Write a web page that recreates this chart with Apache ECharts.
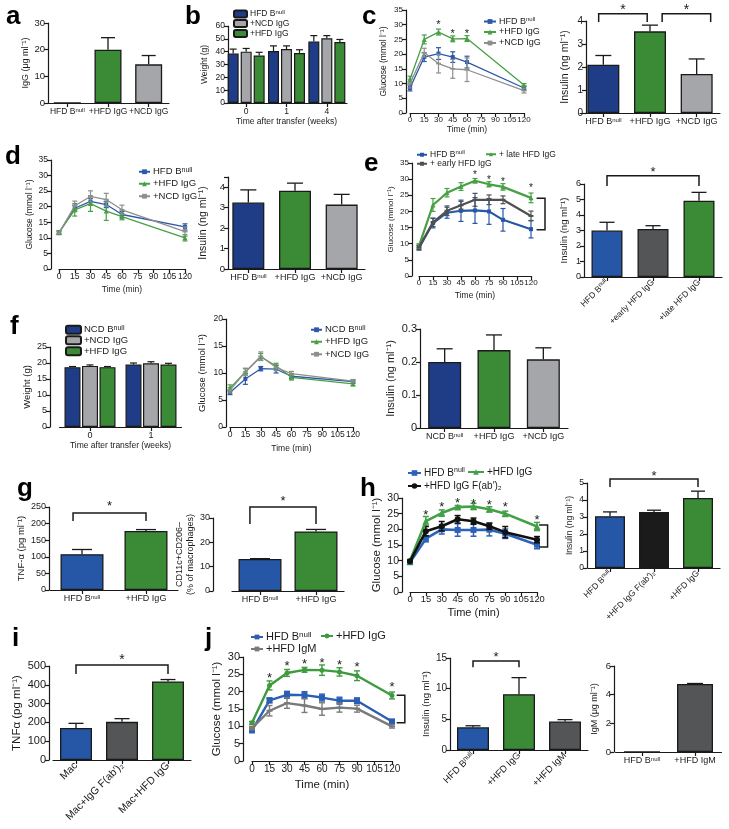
<!DOCTYPE html>
<html><head><meta charset="utf-8">
<script src="https://cdn.jsdelivr.net/npm/echarts@6/dist/echarts.min.js"></script>
<style>html,body{margin:0;padding:0;background:#fff}#c{width:729px;height:829px}</style>
</head><body><div id="c"></div>
<script>
// ================= DATA =================
const timesShort = [0, 15, 30, 45, 60, 120];
const timesLong = [0, 15, 30, 45, 60, 75, 90, 120];

// a
const aCats = ['HFD B^null', '+HFD IgG', '+NCD IgG'];
const aIgG = [0, 20, 14.5];
const aIgGErr = [0, 4.5, 3.3];

// b
const bCats = ['0', '1', '4'];
const bNames = ['HFD B^null', '+NCD IgG', '+HFD IgG'];
const bBnull = [38.5, 40.5, 48];
const bNcd = [40, 42, 50.5];
const bHfd = [37, 39, 47.5];
const bBnullErr = [3.5, 4, 4.5];
const bNcdErr = [2.5, 2.5, 2];
const bHfdErr = [2.5, 2.5, 2];

// c
const cNames = ['HFD B^null', '+HFD IgG', '+NCD IgG'];
const cGluBnull = [8.5, 19, 20.2, 19, 17.3, 8.5];
const cGluBnullErr = [1, 1.5, 2, 1.8, 2, 0.7];
const cGluHfd = [11.5, 25, 27.5, 25.2, 25.3, 9.5];
const cGluHfdErr = [1, 1.5, 1, 1, 1, 0.5];
const cGluNcd = [10, 20.5, 16.8, 15, 14.7, 7.6];
const cGluNcdErr = [1.5, 1.5, 3.2, 3.2, 4, 0.8];
const cStars = [[30, 30.6], [45, 27.6], [60, 27.6]];
const cInsCats = ['HFD B^null', '+HFD IgG', '+NCD IgG'];
const cIns = [2.1, 3.55, 1.7];
const cInsErr = [0.4, 0.27, 0.65];
const cInsBrackets = [[-0.1, 0.94, 4.32, 3.96, 4.6], [1.26, 2.3, 4.32, 3.96, 4.6]];

// d
const dNames = ['HFD B^null', '+HFD IgG', '+NCD IgG'];
const dGluBnull = [11.7, 19.5, 21.7, 20.7, 17.5, 13.5];
const dGluBnullErr = [0.5, 1, 1, 1, 1, 1];
const dGluHfd = [11.8, 19, 21, 18.6, 16.8, 10];
const dGluHfdErr = [0.5, 2, 2.5, 3, 1, 1];
const dGluNcd = [11.5, 20.3, 23.3, 22.3, 19, 12];
const dGluNcdErr = [0.5, 1.5, 1.8, 2, 1.5, 1.5];
const dInsCats = ['HFD B^null', '+HFD IgG', '+NCD IgG'];
const dIns = [3.25, 3.83, 3.15];
const dInsErr = [0.62, 0.37, 0.5];

// e
const eNames = ['HFD B^null', '+ late HFD IgG', '+ early HFD IgG'];
const eGluBnull = [8.7, 16.4, 19.6, 20.2, 20.3, 20, 17.4, 14.5];
const eGluBnullErr = [0.7, 1.5, 1.7, 3.3, 4, 4, 3.5, 2.7];
const eGluLate = [9.3, 22, 25.8, 27.7, 29.5, 28.4, 27.6, 24.2];
const eGluLateErr = [0.7, 2, 1.3, 1.2, 0.7, 0.8, 1, 1.5];
const eGluEarly = [8.9, 16.6, 20.2, 21.9, 23.6, 23.6, 23.6, 18.6];
const eGluEarlyErr = [0.7, 1.3, 1.5, 1.2, 2, 1.5, 1.2, 1.5];
const eStars = [[60, 31.9], [75, 30.4], [90, 29.8], [120, 27.8]];
const eSide = [[126, 135, 24.1, 14.3]];
const eInsCats = ['HFD B^null', '+early HFD IgG', '+late HFD IgG'];
const eIns = [3.0, 3.1, 4.92];
const eInsErr = [0.53, 0.21, 0.54];
const eInsBrackets = [[0, 2, 6.53, 5.87, 6.9]];

// f
const fCats = ['0', '1'];
const fNames = ['NCD B^null', '+NCD IgG', '+HFD IgG'];
const fWBnull = [18.7, 19.5];
const fWNcd = [19.1, 19.9];
const fWHfd = [18.7, 19.5];
const fWBnullErr = [0.2, 0.5];
const fWNcdErr = [0.3, 0.5];
const fWHfdErr = [0.2, 0.4];
const fGNames = ['NCD B^null', '+HFD IgG', '+NCD IgG'];
const fGluBnull = [6.4, 8.9, 10.8, 10.7, 9.4, 8.4];
const fGluBnullErr = [0.4, 1, 0.4, 0.7, 0.4, 0.3];
const fGluHfd = [7.2, 10.2, 13, 11.3, 9.2, 8.0];
const fGluHfdErr = [0.6, 0.6, 0.6, 0.5, 0.5, 0.4];
const fGluNcd = [6.8, 10.2, 13.1, 11.0, 9.9, 8.5];
const fGluNcdErr = [0.5, 0.7, 0.8, 0.5, 0.4, 0.3];
const fInsCats = ['NCD B^null', '+HFD IgG', '+NCD IgG'];
const fIns = [0.2, 0.236, 0.208];
const fInsErr = [0.04, 0.046, 0.035];

// g
const gCats = ['HFD B^null', '+HFD IgG'];
const gTnf = [108, 178];
const gTnfErr = [14, 4];
const gTnfBrackets = [[-0.14, 1, 232, 208, 259]];
const gCd = [13.2, 24.5];
const gCdErr = [0.1, 0.8];
const gCdBrackets = [[-0.18, 1, 34.5, 27.5, 38]];

// h
const hNames = ['HFD B^null', '+HFD IgG', '+HFD IgG F(ab\u2032)\u2082'];
const hGluBnull = [9.5, 17, 20, 19.8, 19.8, 19.9, 18.6, 15.1];
const hGluBnullErr = [0.4, 1, 1.5, 2, 2, 2, 1.5, 1.3];
const hGluHfd = [10, 22.6, 25.2, 27.1, 27.3, 26.4, 25, 20.9];
const hGluHfdErr = [0.4, 1.5, 1, 0.5, 1, 0.8, 0.8, 1.3];
const hGluFab = [9.8, 19.4, 21, 23.2, 22.6, 21, 19.1, 16.7];
const hGluFabErr = [0.4, 1.5, 1.5, 1.2, 1, 1, 1.8, 1];
const hStars = [[15, 25.2], [30, 28], [45, 29.3], [60, 29], [75, 28.4], [90, 28], [120, 23.7]];
const hSide = [[122, 130, 21.4, 14.4]];
const hInsCats = ['HFD B^null', '+HFD IgG F(ab\u2032)\u2082', '+HFD IgG'];
const hIns = [3.05, 3.3, 4.12];
const hInsErr = [0.25, 0.1, 0.4];
const hInsBrackets = [[0, 2, 5.24, 4.76, 5.55]];

// i
const iCats = ['Mac', 'Mac+IgG F(ab\u2032)\u2082', 'Mac+HFD IgG'];
const iTnf = [170, 203, 418];
const iTnfErr = [25, 17, 10];
const iBrackets = [[0, 2, 505, 457, 548]];

// j
const jNames = ['HFD B^null', '+HFD IgG', '+HFD IgM'];
const jGluBnull = [8.8, 17.5, 19.1, 19, 18.3, 17.4, 17.4, 11.4];
const jGluBnullErr = [0.5, 0.7, 1, 1, 1, 1, 0.8, 0.6];
const jGluHfd = [11, 21.8, 25.4, 26.3, 26.2, 25.7, 24.6, 18.9];
const jGluHfdErr = [0.4, 1.3, 1, 0.7, 1.5, 1.2, 1.4, 1];
const jGluIgm = [9.5, 14.5, 16.7, 16, 15, 15.4, 15.1, 10];
const jGluIgmErr = [0.5, 1.5, 1.5, 2, 1.8, 1.3, 1, 0.5];
const jStars = [[15, 24.6], [30, 28], [45, 28.7], [60, 28.9], [75, 28.5], [90, 27.8], [120, 22]];
const jSide = [[124, 131, 19.0, 11.0]];
const jInsCats = ['HFD B^null', '+HFD IgG', '+HFD IgM'];
const jIns = [3.7, 9.1, 4.65];
const jInsErr = [0.25, 2.7, 0.3];
const jInsBrackets = [[0, 1, 14.5, 13.5, 15.6]];
const jIgmCats = ['HFD B^null', '+HFD IgM'];
const jIgm = [0, 4.75];
const jIgmErr = [0, 0.03];

// ================= STYLE / HELPERS =================
const FONT = '"Liberation Sans",Arial,Helvetica,sans-serif';
const INK = '#1a1a1a';
const COL = {
  navy: '#1f3d86', blue: '#2657a6', green: '#3a8a36', lgray: '#a4a6a9', dgray: '#535557', black: '#1b1b1b',
  lBlue: '#2b58a8', lGreen: '#47a044', lGray: '#8e8e8e', lDgray: '#505050', lBlack: '#111111'
};

function sup(s) { const i = s.indexOf('^'); return i < 0 ? s : s.slice(0, i) + '{s|' + s.slice(i + 1) + '}'; }
function richFor(fs) { return { s: { fontSize: Math.round(fs * 0.72), fontFamily: FONT, color: INK, padding: [0, 0, Math.round(fs * 0.45), 0] } }; }

const opt = { animation: false, backgroundColor: '#fff', textStyle: { fontFamily: FONT },
  grid: [], xAxis: [], yAxis: [], series: [], legend: [], graphic: [] };

function axisBase(fs) {
  return {
    axisLine: { show: true, onZero: false, lineStyle: { color: INK, width: 1.2 } },
    axisTick: { show: true, length: 4, lineStyle: { color: INK, width: 1.2 } },
    axisLabel: { color: INK, fontSize: fs, fontFamily: FONT, margin: 3, showMinLabel: true, showMaxLabel: true, hideOverlap: false },
    splitLine: { show: false }
  };
}
function makeY(p) {
  const b = axisBase(p.fs);
  b.axisLabel.formatter = v => { const r = v / p.yint; return Math.abs(r - Math.round(r)) < 1e-6 ? String(Math.round(v * 1000) / 1000) : ''; };
  return Object.assign(b, { type: 'value', min: 0, max: p.ymax, interval: p.yint, offset: p.yoff || 0,
    name: p.yname, nameLocation: 'middle', nameGap: p.ngap,
    nameTextStyle: { color: INK, fontSize: p.nfs || p.fs, fontFamily: FONT, lineHeight: (p.nfs || p.fs) + 2 } });
}
function addAxes(g, xa, ya) {
  opt.grid.push({ left: g.left, top: g.top, width: g.width, height: g.height });
  const gi = opt.grid.length - 1; xa.gridIndex = gi; ya.gridIndex = gi;
  opt.xAxis.push(xa); opt.yAxis.push(ya); return gi;
}
function errSeries(gi, data, mode, cap, color, off, lw) {
  return { type: 'custom', xAxisIndex: gi, yAxisIndex: gi, silent: true, z: 4, clip: false, data: data,
    renderItem: (params, api) => {
      const x = api.value(0), v = api.value(1), e = api.value(2);
      if (!e) return null;
      const top = api.coord([x, v + e]); const bot = api.coord([x, mode === 'up' ? v : v - e]);
      const cx = top[0] + (off || 0);
      const st = { stroke: color, lineWidth: lw || 1.2 };
      const ch = [{ type: 'line', shape: { x1: cx, y1: bot[1], x2: cx, y2: top[1] }, style: st },
                  { type: 'line', shape: { x1: cx - cap / 2, y1: top[1], x2: cx + cap / 2, y2: top[1] }, style: st }];
      if (mode !== 'up') ch.push({ type: 'line', shape: { x1: cx - cap / 2, y1: bot[1], x2: cx + cap / 2, y2: bot[1] }, style: st });
      return { type: 'group', children: ch };
    } };
}
function starText(x, y, fs) {
  return { type: 'text', x: x, y: y + fs * 0.22, style: { text: '*', fontSize: fs, fontFamily: 'Liberation Sans, Arial', fill: INK, align: 'center', verticalAlign: 'middle', textAlign: 'center', textVerticalAlign: 'middle' } };
}
function bracketSeries(gi, br, fs, isCat) {
  return { type: 'custom', xAxisIndex: gi, yAxisIndex: gi, silent: true, z: 5, clip: false,
    data: br.map(b => [Math.round(b[0]), b[2]]),
    renderItem: (params, api) => {
      const b = br[params.dataIndex];
      const px = x => { if (!isCat) return api.coord([x, 0])[0]; const r = Math.round(x); return api.coord([r, 0])[0] + (x - r) * api.size([1, 0])[0]; };
      const py = y => api.coord([0, y])[1];
      const x1 = px(b[0]), x2 = px(b[1]), yt = py(b[2]), yd = py(b[3]);
      return { type: 'group', children: [
        { type: 'polyline', shape: { points: [[x1, yd], [x1, yt], [x2, yt], [x2, yd]] }, style: { stroke: INK, lineWidth: 1.5, fill: null } },
        starText((x1 + x2) / 2, py(b[4]), fs)
      ] };
    } };
}
function starSeries(gi, stars, fs) {
  return { type: 'custom', xAxisIndex: gi, yAxisIndex: gi, silent: true, z: 5, clip: false, data: stars,
    renderItem: (params, api) => { const c = api.coord([api.value(0), api.value(1)]); return starText(c[0], c[1], fs); } };
}
function sideSeries(gi, side, lw) {
  return { type: 'custom', xAxisIndex: gi, yAxisIndex: gi, silent: true, z: 5, clip: false, data: side.map(s => [s[0], s[2]]),
    renderItem: (params, api) => {
      const s = side[params.dataIndex];
      const xa = api.coord([s[0], 0])[0], xb = api.coord([s[1], 0])[0], y1 = api.coord([0, s[2]])[1], y2 = api.coord([0, s[3]])[1];
      return { type: 'polyline', shape: { points: [[xa, y1], [xb, y1], [xb, y2], [xa, y2]] }, style: { stroke: INK, lineWidth: lw || 1.5, fill: null } };
    } };
}
function catAxis(p) {
  const b = axisBase(p.cfs || p.fs);
  b.axisTick.alignWithLabel = true;
  b.axisLabel.interval = 0; b.axisLabel.rotate = p.rot || 0; b.axisLabel.margin = p.cmargin || 4;
  b.axisLabel.formatter = v => sup(v); b.axisLabel.rich = richFor(p.cfs || p.fs);
  const a = Object.assign(b, { type: 'category', data: p.cats });
  if (p.xname) Object.assign(a, { name: p.xname, nameLocation: 'middle', nameGap: p.xgap,
    nameTextStyle: { color: INK, fontSize: p.xnfs || p.fs, fontFamily: FONT } });
  return a;
}
function barPanel(p) {
  const gi = addAxes(p.g, catAxis(p), makeY(p));
  opt.series.push({ type: 'bar', xAxisIndex: gi, yAxisIndex: gi, barWidth: p.bw, silent: true, z: 2,
    data: p.vals.map((v, i) => ({ value: v, itemStyle: { color: p.colors[i] } })),
    itemStyle: { borderColor: INK, borderWidth: 1.3 } });
  opt.series.push(errSeries(gi, p.vals.map((v, i) => [i, v, p.errs[i]]), 'up', p.cap, INK, 0, 1.3));
  if (p.brackets) opt.series.push(bracketSeries(gi, p.brackets, p.sfs || 14, true));
}
function groupPanel(p) {
  const gi = addAxes(p.g, catAxis(p), makeY(p));
  const n = p.series.length;
  p.series.forEach((s, k) => {
    opt.series.push({ type: 'bar', name: p.id + '|' + s.name, xAxisIndex: gi, yAxisIndex: gi, barWidth: p.bw,
      barGap: (p.gap / p.bw * 100) + '%', data: s.vals, silent: true, z: 2,
      itemStyle: { color: s.color, borderColor: INK, borderWidth: 1.2 } });
    const off = (k - (n - 1) / 2) * (p.bw + p.gap);
    opt.series.push(errSeries(gi, s.vals.map((v, i) => [i, v, s.errs[i]]), 'up', p.cap, INK, off, 1.2));
  });
}
function linePanel(p) {
  const xa = Object.assign(axisBase(p.xfs || p.fs), { type: 'value', min: 0, max: 120, interval: 15,
    name: 'Time (min)', nameLocation: 'middle', nameGap: p.xgap,
    nameTextStyle: { color: INK, fontSize: p.xnfs || p.fs, fontFamily: FONT } });
  const gi = addAxes(p.g, xa, makeY(p));
  p.series.forEach((s, k) => {
    opt.series.push({ type: 'line', name: p.id + '|' + s.name, xAxisIndex: gi, yAxisIndex: gi, silent: true, z: 3 + k,
      data: p.x.map((x, i) => [x, s.y[i]]), symbol: s.symbol, symbolSize: s.size, showSymbol: true,
      color: s.color, itemStyle: { color: s.color }, lineStyle: { color: s.color, width: p.lw } });
    opt.series.push(errSeries(gi, p.x.map((x, i) => [x, s.y[i], s.e[i]]), 'both', p.cap, s.color, 0, p.elw || 1.2));
  });
  if (p.stars) opt.series.push(starSeries(gi, p.stars, p.sfs || 11));
  if (p.side) opt.series.push(sideSeries(gi, p.side, 1.5));
}
function leg(name, left, cy, fs, iw, ih) {
  const h = Math.max(ih, fs + 2);
  opt.legend.push({ data: [name], left: left, top: cy - h / 2, orient: 'horizontal', selectedMode: false, padding: 0,
    itemWidth: iw, itemHeight: ih, itemGap: 0,
    textStyle: { fontSize: fs, fontFamily: FONT, color: INK, rich: richFor(fs), padding: [0, 0, 0, -2] },
    formatter: n => sup(n.split('|')[1]) });
}

// ================= PANELS =================
// a
barPanel({ g: { left: 47, top: 23, width: 122, height: 80 }, cats: aCats, vals: aIgG, errs: aIgGErr,
  colors: [COL.navy, COL.green, COL.lgray], bw: 27, cap: 14, ymax: 30, yint: 10, yoff: -1, fs: 9.5, cfs: 8.5,
  yname: 'IgG (\u03bcg ml\u207b\u00b9)', ngap: 16, nfs: 9 });

// b
groupPanel({ id: 'b', g: { left: 226, top: 26, width: 121, height: 77 }, cats: bCats, bw: 11, gap: 2, cap: 7,
  ymax: 60, yint: 10, yoff: -2, fs: 8.5, cfs: 8.5, yname: 'Weight (g)', ngap: 18, nfs: 8.5,
  xname: 'Time after transfer (weeks)', xgap: 12, xnfs: 8.5,
  series: [{ name: bNames[0], vals: bBnull, errs: bBnullErr, color: COL.navy },
           { name: bNames[1], vals: bNcd, errs: bNcdErr, color: COL.lgray },
           { name: bNames[2], vals: bHfd, errs: bHfdErr, color: COL.green }] });
bNames.forEach((n, k) => leg('b|' + n, 233, 14.3 + k * 10, 8.5, 13, 7));

// c glucose
linePanel({ id: 'c', g: { left: 410, top: 10, width: 114, height: 103 }, x: timesShort, ymax: 35, yint: 5, yoff: 4,
  fs: 8, yname: 'Glucose (mmol l\u207b\u00b9)', ngap: 17, nfs: 8.5, xgap: 10, xnfs: 8.5, lw: 1.3, cap: 5, sfs: 11,
  stars: cStars,
  series: [{ name: cNames[0], y: cGluBnull, e: cGluBnullErr, color: COL.lBlue, symbol: 'rect', size: 4 },
           { name: cNames[1], y: cGluHfd, e: cGluHfdErr, color: COL.lGreen, symbol: 'triangle', size: 5 },
           { name: cNames[2], y: cGluNcd, e: cGluNcdErr, color: COL.lGray, symbol: 'rect', size: [5, 1.6] }] });
cNames.forEach((n, k) => leg('c|' + n, 483, 22 + k * 11, 9, 12, 6));
// c insulin
barPanel({ g: { left: 580, top: 21, width: 140, height: 92 }, cats: cInsCats, vals: cIns, errs: cInsErr,
  colors: [COL.navy, COL.green, COL.lgray], bw: 32, cap: 16, ymax: 4, yint: 1, yoff: -6, fs: 10, cfs: 9,
  yname: 'Insulin (ng ml\u207b\u00b9)', ngap: 15, nfs: 10.5, brackets: cInsBrackets, sfs: 14 });

// d glucose
linePanel({ id: 'd', g: { left: 59, top: 160, width: 126, height: 109 }, x: timesShort, ymax: 35, yint: 5, yoff: 8,
  fs: 8.5, yname: 'Glucose (mmol l\u207b\u00b9)', ngap: 16, nfs: 8.5, xgap: 16, xnfs: 8.5, lw: 1.3, cap: 5,
  series: [{ name: dNames[0], y: dGluBnull, e: dGluBnullErr, color: COL.lBlue, symbol: 'rect', size: 4 },
           { name: dNames[1], y: dGluHfd, e: dGluHfdErr, color: COL.lGreen, symbol: 'triangle', size: 5 },
           { name: dNames[2], y: dGluNcd, e: dGluNcdErr, color: COL.lGray, symbol: 'rect', size: [5, 1.6] }] });
dNames.forEach((n, k) => leg('d|' + n, 138, 172 + k * 12.5, 9.5, 11, 6));
// d insulin
barPanel({ g: { left: 225, top: 177, width: 140, height: 92 }, cats: dInsCats, vals: dIns, errs: dInsErr,
  colors: [COL.navy, COL.green, COL.lgray], bw: 32, cap: 16, ymax: 4.5, yint: 1, yoff: -3, fs: 9.5, cfs: 9,
  yname: 'Insulin (ng ml\u207b\u00b9)', ngap: 19, nfs: 10.5 });

// e glucose
linePanel({ id: 'e', g: { left: 419, top: 163, width: 112, height: 113 }, x: timesLong, ymax: 35, yint: 5, yoff: 7,
  fs: 8, yname: 'Glucose (mmol l\u207b\u00b9)', ngap: 15, nfs: 8, xgap: 15, xnfs: 8.5, lw: 2.2, cap: 5, sfs: 10,
  stars: eStars, side: eSide,
  series: [{ name: eNames[0], y: eGluBnull, e: eGluBnullErr, color: COL.blue, symbol: 'rect', size: 4 },
           { name: eNames[1], y: eGluLate, e: eGluLateErr, color: COL.lGreen, symbol: 'triangle', size: 5 },
           { name: eNames[2], y: eGluEarly, e: eGluEarlyErr, color: COL.lDgray, symbol: 'rect', size: [5, 2] }] });
leg('e|' + eNames[0], 416, 155, 8.5, 10, 5);
leg('e|' + eNames[1], 485, 155, 8.5, 10, 5);
leg('e|' + eNames[2], 416, 164.5, 8.5, 10, 5);
// e insulin
barPanel({ g: { left: 584, top: 184, width: 138, height: 93 }, cats: eInsCats, vals: eIns, errs: eInsErr,
  colors: [COL.blue, COL.dgray, COL.green], bw: 31, cap: 15, ymax: 6, yint: 1, yoff: 0, fs: 9, cfs: 8.5, rot: 45,
  yname: 'Insulin (ng ml\u207b\u00b9)', ngap: 14, nfs: 9.5, brackets: eInsBrackets, sfs: 13 });

// f weight
groupPanel({ id: 'f', g: { left: 59.5, top: 347, width: 122, height: 80 }, cats: fCats, bw: 16, gap: 1.5, cap: 7,
  ymax: 25, yint: 5, yoff: 9.5, fs: 9, cfs: 9, yname: 'Weight (g)', ngap: 12, nfs: 9.5,
  xname: 'Time after transfer (weeks)', xgap: 13, xnfs: 8.5,
  series: [{ name: fNames[0], vals: fWBnull, errs: fWBnullErr, color: COL.navy },
           { name: fNames[1], vals: fWNcd, errs: fWNcdErr, color: COL.lgray },
           { name: fNames[2], vals: fWHfd, errs: fWHfdErr, color: COL.green }] });
fNames.forEach((n, k) => leg('f|' + n, 65, 330 + k * 11, 9.5, 15, 8));
// f glucose
linePanel({ id: 'f2', g: { left: 230, top: 319, width: 123, height: 108 }, x: timesShort, ymax: 20, yint: 5, yoff: 4,
  fs: 8.5, yname: 'Glucose (mmol l\u207b\u00b9)', ngap: 18, nfs: 9.5, xgap: 17, xnfs: 8.5, lw: 1.3, cap: 5,
  series: [{ name: fGNames[0], y: fGluBnull, e: fGluBnullErr, color: COL.lBlue, symbol: 'rect', size: 4 },
           { name: fGNames[1], y: fGluHfd, e: fGluHfdErr, color: COL.lGreen, symbol: 'triangle', size: 5 },
           { name: fGNames[2], y: fGluNcd, e: fGluNcdErr, color: COL.lGray, symbol: 'rect', size: [5, 1.6] }] });
fGNames.forEach((n, k) => leg('f2|' + n, 310, 330 + k * 12.5, 9.5, 11, 6));
// f insulin
barPanel({ g: { left: 420, top: 329, width: 148, height: 99 }, cats: fInsCats, vals: fIns, errs: fInsErr,
  colors: [COL.navy, COL.green, COL.lgray], bw: 33, cap: 16, ymax: 0.3, yint: 0.1, yoff: 0, fs: 11, cfs: 9,
  yname: 'Insulin (ng ml\u207b\u00b9)', ngap: 23, nfs: 11 });

// g TNF
barPanel({ g: { left: 50, top: 507, width: 128, height: 83 }, cats: gCats, vals: gTnf, errs: gTnfErr,
  colors: [COL.blue, COL.green], bw: 43, cap: 20, ymax: 250, yint: 50, yoff: 1, fs: 9, cfs: 9,
  yname: 'TNF-\u03b1 (pg ml\u207b\u00b9)', ngap: 19, nfs: 9.5, brackets: gTnfBrackets, sfs: 13 });
// g CD11c
barPanel({ g: { left: 232, top: 518, width: 112, height: 73 }, cats: gCats, vals: gCd, errs: gCdErr,
  colors: [COL.blue, COL.green], bw: 43, cap: 20, ymax: 30, yint: 10, yoff: 19, fs: 9, cfs: 9,
  yname: 'CD11c+CD206\u2013\n(% of macrophages)', ngap: 7, nfs: 9, brackets: gCdBrackets, sfs: 13 });

// h glucose
linePanel({ id: 'h', g: { left: 410, top: 498, width: 127, height: 94 }, x: timesLong, ymax: 30, yint: 5, yoff: 8,
  fs: 10.5, xfs: 9.4, yname: 'Glucose (mmol l\u207b\u00b9)', ngap: 15, nfs: 11.5, xgap: 15, xnfs: 11, lw: 2.6, cap: 6, elw: 1.5, sfs: 13,
  stars: hStars, side: hSide,
  series: [{ name: hNames[0], y: hGluBnull, e: hGluBnullErr, color: '#2c62b8', symbol: 'rect', size: 6 },
           { name: hNames[1], y: hGluHfd, e: hGluHfdErr, color: '#43a046', symbol: 'triangle', size: 7 },
           { name: hNames[2], y: hGluFab, e: hGluFabErr, color: COL.lBlack, symbol: 'circle', size: 6 }] });
leg('h|' + hNames[0], 407, 473, 10, 13, 7);
leg('h|' + hNames[1], 467, 473, 10, 16, 7);
leg('h|' + hNames[2], 407, 487, 10, 13, 7);
// h insulin
barPanel({ g: { left: 588, top: 483, width: 132, height: 85 }, cats: hInsCats, vals: hIns, errs: hInsErr,
  colors: [COL.blue, COL.black, COL.green], bw: 30, cap: 14, ymax: 5, yint: 1, yoff: 1, fs: 8.5, cfs: 8.5, rot: 45,
  yname: 'Insulin (ng ml\u207b\u00b9)', ngap: 10, nfs: 8.5, brackets: hInsBrackets, sfs: 13 });

// i
barPanel({ g: { left: 53, top: 666, width: 138, height: 94 }, cats: iCats, vals: iTnf, errs: iTnfErr,
  colors: [COL.blue, COL.dgray, COL.green], bw: 32, cap: 15, ymax: 500, yint: 100, yoff: 4, fs: 11, cfs: 10.5, rot: 45,
  yname: 'TNF\u03b1 (pg ml\u207b\u00b9)', ngap: 24, nfs: 11.5, brackets: iBrackets, sfs: 14 });

// j glucose
linePanel({ id: 'j', g: { left: 252, top: 657, width: 140, height: 104 }, x: timesLong, ymax: 30, yint: 5, yoff: 9,
  fs: 11, xfs: 10, yname: 'Glucose (mmol l\u207b\u00b9)', ngap: 16, nfs: 11.5, xgap: 18, xnfs: 11.5, lw: 2.4, cap: 6, elw: 1.4, sfs: 13,
  stars: jStars, side: jSide,
  series: [{ name: jNames[0], y: jGluBnull, e: jGluBnullErr, color: '#2b5fb3', symbol: 'rect', size: 6 },
           { name: jNames[1], y: jGluHfd, e: jGluHfdErr, color: '#3f9a3f', symbol: 'circle', size: 5 },
           { name: jNames[2], y: jGluIgm, e: jGluIgmErr, color: '#7a7a7a', symbol: 'rect', size: [6, 2] }] });
leg('j|' + jNames[0], 250, 637, 11, 12, 6);
leg('j|' + jNames[1], 320, 637, 11, 12, 6);
leg('j|' + jNames[2], 250, 650, 11, 12, 6);
// j insulin
barPanel({ g: { left: 450, top: 658, width: 138, height: 92 }, cats: jInsCats, vals: jIns, errs: jInsErr,
  colors: [COL.blue, COL.green, COL.dgray], bw: 32, cap: 15, ymax: 15, yint: 5, yoff: 0, fs: 10, cfs: 9.5, rot: 45,
  yname: 'Insulin (ng ml\u207b\u00b9)', ngap: 17, nfs: 9.5, brackets: jInsBrackets, sfs: 13 });
// j IgM
barPanel({ g: { left: 615.5, top: 666, width: 106, height: 86 }, cats: jIgmCats, vals: jIgm, errs: jIgmErr,
  colors: [COL.dgray, COL.dgray], bw: 36, cap: 16, ymax: 6, yint: 2, yoff: 1.5, fs: 9.5, cfs: 9,
  yname: 'IgM (\u03bcg ml\u207b\u00b9)', ngap: 14, nfs: 9 });

// panel letters
const letters = [['a', 6, 25], ['b', 185, 25], ['c', 362, 25], ['d', 5, 165], ['e', 364, 172], ['f', 10, 335],
  ['g', 17, 497], ['h', 360, 497], ['i', 12, 647], ['j', 205, 647]];
letters.forEach(([t, x, y]) => opt.graphic.push({ type: 'text', x: x, y: y + 5, silent: true,
  style: { text: t, fontSize: 26, fontWeight: 'bold', fontFamily: '"Liberation Sans", Arial, sans-serif', fill: '#000', verticalAlign: 'bottom', textVerticalAlign: 'bottom' } }));

const chart = echarts.init(document.getElementById('c'), null, { renderer: 'canvas' });
chart.setOption(opt);
</script></body></html>
